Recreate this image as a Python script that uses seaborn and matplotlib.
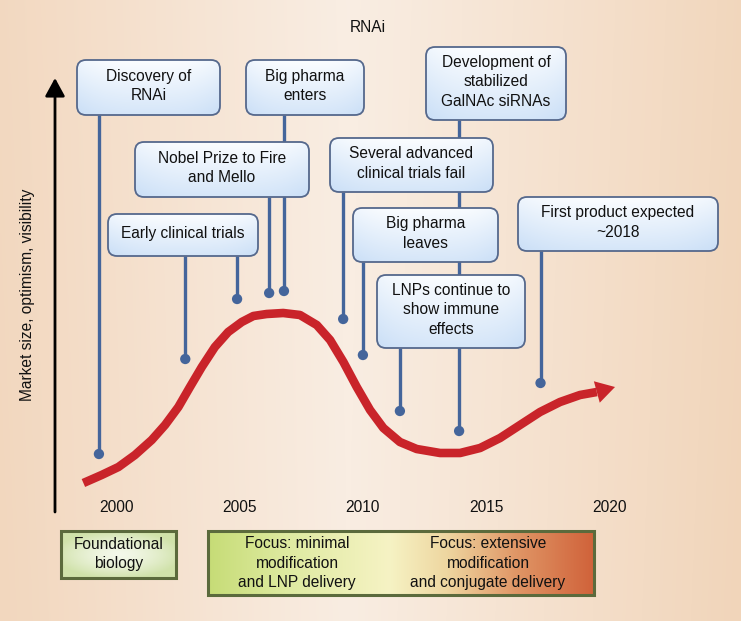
import numpy as np
import matplotlib
matplotlib.use("Agg")
import matplotlib.pyplot as plt
import seaborn as sns
import pandas as pd
from matplotlib.patches import FancyBboxPatch, Rectangle

sns.set_style("white")
plt.rcParams['font.family'] = ['Liberation Sans', 'DejaVu Sans']

# ---- data ----
curve_years = [1998.67, 1999.41, 2000.09, 2000.76, 2001.44, 2001.98, 2002.52, 2002.99,
               2003.47, 2004.00, 2004.54, 2005.09, 2005.56, 2006.10, 2006.77, 2007.45,
               2008.13, 2008.67, 2009.21, 2009.75, 2010.29, 2010.83, 2011.50, 2012.18,
               2013.13, 2013.94, 2014.75, 2015.56, 2016.37, 2017.18, 2017.99, 2018.80,
               2019.48]
curve_heights = [138, 146, 154, 166, 181, 196, 214, 234,
                 254, 274, 289, 299, 305, 307, 308, 306,
                 296, 281, 259, 234, 211, 193, 179, 172,
                 168, 168, 173, 183, 196, 209, 219, 226,
                 229]
arrow_tip = (2020.22, 234)

event_years = [1999.3, 2002.8, 2004.9, 2006.2, 2006.8, 2009.2, 2010.0, 2011.5, 2013.9, 2017.2]
event_heights = [167, 262, 322, 328, 330, 302, 266, 210, 190, 238]
event_box = [0, 3, 3, 2, 1, 5, 6, 7, 4, 8]

tick_years = [2000, 2005, 2010, 2015, 2020]

box_texts = ["Discovery of\nRNAi",
             "Big pharma\nenters",
             "Nobel Prize to Fire\nand Mello",
             "Early clinical trials",
             "Development of\nstabilized\nGalNAc siRNAs",
             "Several advanced\nclinical trials fail",
             "Big pharma\nleaves",
             "LNPs continue to\nshow immune\neffects",
             "First product expected\n~2018"]
# box layout in figure pixels: left, top, right, bottom
box_px = [(77, 60, 220, 115), (246, 60, 364, 115), (135, 142, 309, 197),
          (108, 214, 258, 256), (426, 47, 566, 120), (330, 138, 493, 192),
          (353, 208, 498, 262), (377, 275, 525, 348), (518, 197, 718, 251)]

# ---- pixel <-> data helpers ----
W, H = 741, 621
PX_2000 = 116.2
PX_PER_YR = 24.67
FS = 11.2
LS = 1.36


def xd(px):
    return 2000 + (px - PX_2000) / PX_PER_YR


def yd(py):
    return H - py


fig = plt.figure(figsize=(W / 100, H / 100), dpi=100)
ax = fig.add_axes([0, 0, 1, 1])
ax.axis('off')

# background gradient
xs = np.linspace(0, 1, 300)
left_c = np.array([242, 215, 190]) / 255
mid_c = np.array([249, 237, 226]) / 255
right_c = np.array([241, 213, 186]) / 255
prof = np.where(xs[:, None] < 0.47,
                left_c + (mid_c - left_c) * (xs[:, None] / 0.47),
                mid_c + (right_c - mid_c) * ((xs[:, None] - 0.47) / 0.53))
ys = np.linspace(0, 1, 120)
bg = prof[None, :, :] * (1 - 0.04 * (1 - ys[:, None, None])) + 0.04 * (1 - ys[:, None, None])
ax.imshow(np.clip(bg, 0, 1), extent=[xd(0), xd(W), 0, H], origin='upper', aspect='auto', zorder=0)

# blue box gradient
gv = np.linspace(0, 1, 60)[:, None, None]
gh = np.abs(np.linspace(-1, 1, 60))[None, :, None]
top_b = np.array([251, 253, 255]) / 255
bot_b = np.array([204, 224, 247]) / 255
t = np.clip(0.8 * gv + 0.25 * gh ** 3, 0, 1)
blue_grad = top_b + (bot_b - top_b) * t

edge_blue = '#55688c'
stem_blue = '#44659b'
red = '#c9242a'

# stems and dots
for yr, h, b in zip(event_years, event_heights, event_box):
    ax.plot([yr, yr], [h, yd(box_px[b][3])], color=stem_blue, lw=2.4, zorder=3,
            solid_capstyle='butt')
dots = pd.DataFrame({'year': event_years, 'height': event_heights})
sns.scatterplot(data=dots, x='year', y='height', ax=ax, color=stem_blue, s=55,
                edgecolor='none', zorder=4, legend=False)

# red curve
curve = pd.DataFrame({'year': curve_years, 'height': curve_heights})
sns.lineplot(data=curve, x='year', y='height', ax=ax, color=red, lw=6.2, sort=False,
             zorder=2, solid_capstyle='butt', solid_joinstyle='round')
ax.annotate('', xy=arrow_tip, xytext=(curve_years[-1], curve_heights[-1]),
            arrowprops=dict(arrowstyle='-|>,head_length=0.68,head_width=0.4',
                            mutation_scale=20, color=red, lw=0, shrinkA=0, shrinkB=0),
            zorder=2)

# event boxes
for (l, tp, r, bt), txt in zip(box_px, box_texts):
    x0, x1, y0, y1 = xd(l), xd(r), yd(bt), yd(tp)
    patch = FancyBboxPatch((x0, y0), x1 - x0, y1 - y0,
                           boxstyle=f"round,pad=0,rounding_size={9 / PX_PER_YR}",
                           mutation_aspect=PX_PER_YR, fc='none', ec=edge_blue,
                           lw=1.3, zorder=5.1)
    ax.add_patch(patch)
    im = ax.imshow(blue_grad, extent=[x0, x1, y0, y1], origin='upper', aspect='auto', zorder=5)
    im.set_clip_path(patch)
    ax.text((x0 + x1) / 2, (y0 + y1) / 2 + 1.5, txt, ha='center', va='center',
            fontsize=FS, linespacing=LS, color='#111111', zorder=5.2)

# y axis arrow
ax.annotate('', xy=(xd(55), yd(78)), xytext=(xd(55), yd(512)),
            arrowprops=dict(arrowstyle='-|>,head_length=0.55,head_width=0.3',
                            mutation_scale=20, color='black', lw=2, shrinkA=0, shrinkB=0))
ax.text(xd(28), yd(295), 'Market size, optimism, visibility', rotation=90,
        ha='center', va='center', fontsize=FS, color='#111111')

# x tick labels
for yr in tick_years:
    ax.text(yr, yd(507), str(yr), ha='center', va='center', fontsize=FS, color='#111111')

ax.text(xd(368), yd(28), 'RNAi', ha='center', va='center', fontsize=FS, color='#111111')

# bottom boxes
l, tp, r, bt = 61, 531, 176, 578
gx = np.linspace(-1, 1, 80)
gy = np.linspace(-1, 1, 40)
rr = np.clip(np.sqrt(gx[None, :] ** 2 * 0.8 + gy[:, None] ** 2 * 0.9), 0, 1)[:, :, None]
c_in = np.array([244, 248, 234]) / 255
c_out = np.array([208, 226, 170]) / 255
ax.imshow(c_in + (c_out - c_in) * rr ** 1.5, extent=[xd(l), xd(r), yd(bt), yd(tp)],
          aspect='auto', zorder=5)
ax.add_patch(Rectangle((xd(l), yd(bt)), xd(r) - xd(l), bt - tp, fc='none',
                       ec='#5b6a3c', lw=2.2, zorder=5.1))
ax.text(xd((l + r) / 2), yd(554), 'Foundational\nbiology', ha='center', va='center',
        fontsize=FS, linespacing=LS, color='#111111', zorder=5.2)

l, tp, r, bt = 208, 531, 594, 595
stops = [0.0, 0.2, 0.47, 0.62, 0.8, 1.0]
cols = np.array([[198, 220, 118], [222, 234, 160], [246, 243, 196],
                 [238, 214, 160], [224, 150, 102], [208, 98, 58]]) / 255
sx = np.linspace(0, 1, 400)
band = np.stack([np.interp(sx, stops, cols[:, k]) for k in range(3)], axis=-1)
ax.imshow(band[None, :, :].repeat(10, axis=0), extent=[xd(l), xd(r), yd(bt), yd(tp)],
          aspect='auto', zorder=5)
ax.add_patch(Rectangle((xd(l), yd(bt)), xd(r) - xd(l), bt - tp, fc='none',
                       ec='#5b6a3c', lw=2.2, zorder=5.1))
ax.text(xd(297), yd(563), 'Focus: minimal\nmodification\nand LNP delivery', ha='center',
        va='center', fontsize=FS, linespacing=LS, color='#111111', zorder=5.2)
ax.text(xd(488), yd(563), 'Focus: extensive\nmodification\nand conjugate delivery',
        ha='center', va='center', fontsize=FS, linespacing=LS, color='#111111', zorder=5.2)

ax.set_xlim(xd(0), xd(W))
ax.set_ylim(0, H)

fig.savefig('out.png', dpi=100)
